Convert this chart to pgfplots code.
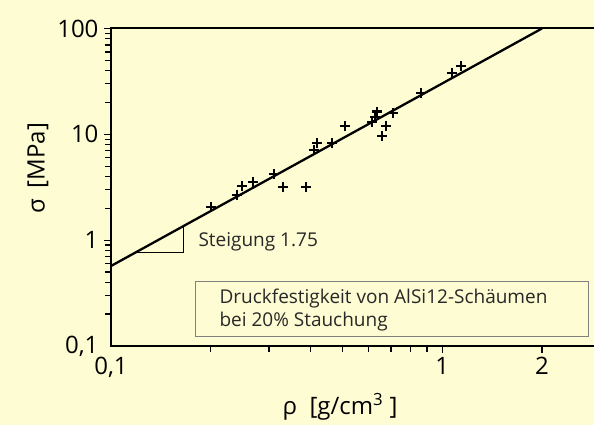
\documentclass[border=0pt]{standalone}
\usepackage{fontspec}
\setmainfont{Open Sans}
\usepackage{pgfplots}
\pgfplotsset{compat=1.18}
\definecolor{bg}{RGB}{253,252,210}
\definecolor{txt}{RGB}{40,40,40}
\begin{document}
\begin{tikzpicture}
\fill[bg] (-111pt,-79pt) rectangle (483pt,346pt);
\begin{axis}[at={(0,0)}, anchor=south west, scale only axis,
  width=483pt, height=317.5pt,
  xmode=log, ymode=log, xmin=0.1, xmax=2.871, ymin=0.1, ymax=100,
  axis line style={draw=none},
  xtick pos=left, ytick pos=left,
  tick align=outside,
  major tick length=0pt, minor tick length=0pt,
  xtick={0.1,1,2}, xticklabels={{0,1},1,2},
  minor xtick={},
  ytick={0.1,1,10,100}, yticklabels={{0,1},1,10,100},
  minor ytick={},
  /pgf/number format/assume math mode=true,
  ticklabel style={font=\fontsize{24}{28}\selectfont, text=black},
  xticklabel style={yshift=-8pt},
  yticklabel style={xshift=-9pt},
  clip=false,
]
\addplot[black, line width=2.3pt] coordinates {(0.1,0.57) (2,100)};
\addplot[black, line width=1.2pt] coordinates {(0.119,0.77) (0.1654,0.77) (0.1654,1.35)};
\addplot[only marks, mark=+, mark size=5pt, black, line width=2.8pt, mark options={line width=2.8pt}] coordinates {
(0.2004,2.06) (0.240,2.67) (0.2485,3.25) (0.2683,3.55) (0.3105,4.22)
(0.3304,3.18) (0.3879,3.18) (0.410,7.12) (0.4187,8.29) (0.4646,8.29)
(0.5085,12.0) (0.6135,13.1) (0.6265,14.6) (0.6352,16.3) (0.6761,12.0)
(0.6577,9.66) (0.7098,15.9) (0.8624,24.6) (1.070,38.0) (1.139,44.3)
};
\pgfplotsinvokeforeach{0.2,0.3,0.4,0.5,0.6,0.7,0.8,0.9}{
  \draw[black, line width=1.3pt] (axis cs:#1,0.1) -- ++(0pt,-6pt);
}
\pgfplotsinvokeforeach{1,2}{
  \draw[black, line width=1.3pt] (axis cs:#1,0.1) -- ++(0pt,-7pt);
}
\pgfplotsinvokeforeach{0.2,0.3,0.4,0.5,0.6,0.7,0.8,0.9,2,3,4,5,6,7,8,9,20,30,40,50,60,70,80,90}{
  \draw[black, line width=1.3pt] (axis cs:0.1,#1) -- ++(-6pt,0pt);
}
\pgfplotsinvokeforeach{1,10,100}{
  \draw[black, line width=1.3pt] (axis cs:0.1,#1) -- ++(-7pt,0pt);
}
\draw[black, line width=2pt, line cap=rect] (rel axis cs:1,1) -- (rel axis cs:0,1) -- (rel axis cs:0,0) -- (rel axis cs:1,0);
\end{axis}
\draw[gray, line width=0.9pt] (84pt,10pt) rectangle (477pt,64.3pt);
\node[anchor=west, text=txt, font=\fontsize{19}{23}\selectfont] at (84pt,104.3pt) {Steigung 1.75};
\node[anchor=west, text=txt, font=\fontsize{19}{23}\selectfont] at (105pt,47pt) {Druckfestigkeit von AlSi12-Schäumen};
\node[anchor=west, text=txt, font=\fontsize{19}{23}\selectfont] at (105pt,24pt) {bei 20\% Stauchung};
\node[rotate=90, text=black, font=\fontsize{24}{28}\selectfont] at (-73pt,178pt) {σ\, [MPa]};
\node[text=black, font=\fontsize{24}{28}\selectfont] at (229pt,-61pt) {ρ\ \ [g/cm\textsuperscript{3} ]};
\pgfresetboundingbox
\path (-111pt,-79pt) rectangle (483pt,346pt);
\end{tikzpicture}
\end{document}
